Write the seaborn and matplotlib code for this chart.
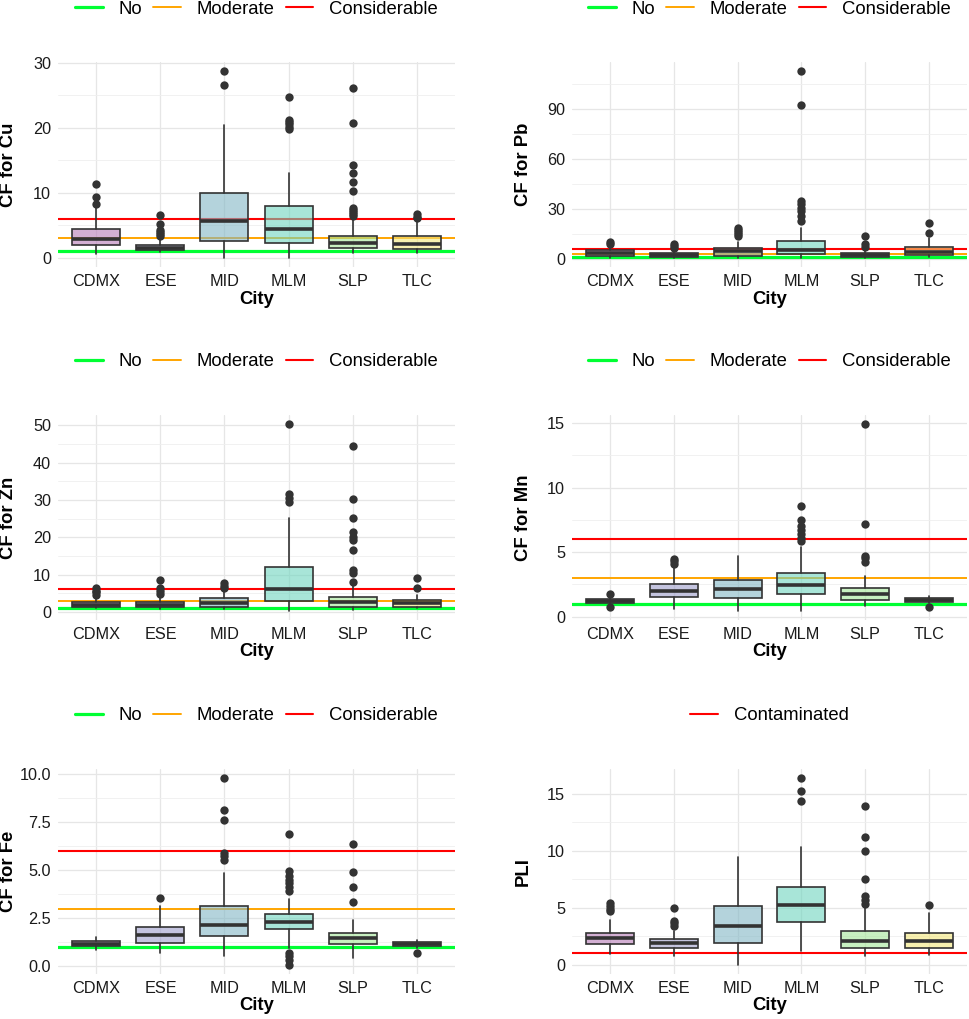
import numpy as np
import pandas as pd
import matplotlib
matplotlib.use("Agg")
import matplotlib.pyplot as plt
import seaborn as sns
from matplotlib.ticker import MultipleLocator, FormatStrFormatter
from matplotlib.colors import to_rgba
from matplotlib.lines import Line2D

# ---------------- data ----------------
cities = ["CDMX", "ESE", "MID", "MLM", "SLP", "TLC"]
fill_colors = ["#b77bb7", "#9d9dcb", "#82b7c5", "#6ed5be", "#a3e696", "#f3e67b"]

# Cu
cu_q1 = [2.0, 1.18, 2.55, 2.25, 1.5, 1.4]
cu_med = [2.8, 1.5, 5.6, 4.35, 2.3, 2.05]
cu_q3 = [4.4, 2.0, 10.0, 7.9, 3.4, 3.3]
cu_lo = [0.5, 0.9, 0.0, 0.0, 0.7, 0.7]
cu_hi = [7.6, 3.0, 20.4, 13.1, 6.2, 5.7]
cu_out = [[8.3, 9.3, 11.3], [3.4, 3.7, 3.9, 4.2, 5.2, 6.6], [26.6, 28.7],
          [19.8, 20.2, 20.6, 20.9, 21.2, 24.8],
          [6.4, 6.7, 7.0, 7.3, 7.7, 10.3, 11.7, 13.0, 14.3, 20.7, 26.2],
          [6.1, 6.3, 6.75]]

# Pb
pb_q1 = [1.6, 1.0, 1.6, 2.6, 1.0, 2.0]
pb_med = [3.2, 2.2, 4.6, 5.0, 2.2, 4.2]
pb_q3 = [5.2, 3.6, 6.2, 10.6, 3.6, 7.2]
pb_lo = [0.6, 0.6, 0.6, 0.6, 0.6, 1.0]
pb_hi = [7.2, 5.6, 10.0, 18.7, 5.0, 12.7]
pb_out = [[8.6, 9.8], [6.6, 7.6, 9.0], [13.5, 14.7, 16.0, 17.2, 18.5],
          [22.7, 25.7, 28.7, 30.7, 32.7, 34.7, 92.6, 112.9],
          [7.0, 8.6, 13.7], [15.3, 21.7]]

# Zn
zn_q1 = [1.4, 1.4, 1.4, 2.9, 1.4, 1.3]
zn_med = [1.9, 1.9, 2.3, 6.0, 2.6, 2.4]
zn_q3 = [2.6, 2.7, 3.6, 12.1, 4.0, 3.1]
zn_lo = [1.1, 0.7, 0.7, 0.3, 0.5, 0.9]
zn_hi = [4.1, 3.9, 5.5, 25.3, 7.3, 4.6]
zn_out = [[4.6, 5.2, 5.7, 6.4], [4.8, 5.5, 6.4, 8.4], [6.4, 6.8, 7.7],
          [29.5, 30.5, 31.7, 50.3],
          [8.1, 10.4, 11.3, 16.6, 19.3, 20.2, 21.4, 25.2, 30.2, 44.6],
          [6.4, 9.1]]

# Mn
mn_q1 = [1.09, 1.53, 1.45, 1.76, 1.27, 1.14]
mn_med = [1.24, 2.0, 2.12, 2.46, 1.76, 1.32]
mn_q3 = [1.4, 2.5, 2.82, 3.36, 2.2, 1.47]
mn_lo = [0.9, 0.57, 0.47, 0.47, 0.83, 1.03]
mn_hi = [1.55, 3.9, 4.73, 5.43, 3.18, 1.6]
mn_out = [[0.72, 1.8], [4.1, 4.3, 4.5], [],
          [5.87, 6.08, 6.4, 6.73, 7.04, 7.5, 8.54],
          [4.27, 4.53, 4.73, 7.22, 14.9], [0.78]]

# Fe
fe_q1 = [1.04, 1.2, 1.56, 1.94, 1.18, 1.04]
fe_med = [1.18, 1.61, 2.15, 2.31, 1.48, 1.16]
fe_q3 = [1.34, 2.05, 3.12, 2.71, 1.74, 1.27]
fe_lo = [0.87, 0.69, 0.56, 0.94, 0.43, 0.95]
fe_hi = [1.53, 3.12, 4.86, 3.52, 2.4, 1.39]
fe_out = [[], [3.56], [5.52, 5.73, 5.9, 7.6, 8.14, 9.79],
          [0.09, 0.35, 0.52, 0.69, 3.92, 4.13, 4.34, 4.51, 4.69, 4.97, 6.91],
          [3.33, 4.13, 4.93, 6.37], [0.69]]

# PLI
pli_q1 = [1.78, 1.49, 1.87, 3.74, 1.49, 1.49]
pli_med = [2.33, 1.87, 3.41, 5.22, 2.07, 2.07]
pli_q3 = [2.8, 2.22, 5.14, 6.83, 2.95, 2.8]
pli_lo = [0.9, 0.76, 0.0, 1.2, 0.76, 0.82]
pli_hi = [3.9, 2.95, 9.42, 10.33, 5.0, 4.55]
pli_out = [[4.7, 4.9, 5.13, 5.37], [3.38, 3.68, 3.82, 4.99], [],
           [14.33, 15.23, 16.34],
           [5.28, 5.7, 6.0, 7.47, 10.0, 11.18, 13.9], [5.2]]

cf_levels = [1, 3, 6]
cf_names = ["No", "Moderate", "Considerable"]
cf_colors = ["#00FF33", "#FFA500", "#FF0000"]
cf_widths = [2.3, 1.4, 1.5]
pli_levels = [1]
pli_names = ["Contaminated"]
pli_colors = ["#FF0000"]
pli_widths = [1.5]

# ---------------- style ----------------
sns.set_theme(style="whitegrid")
plt.rcParams["font.family"] = ["Liberation Sans", "DejaVu Sans"]

W, H = 969, 1019
fig = plt.figure(figsize=(W / 100, H / 100), dpi=100)
fig.patch.set_facecolor("white")

col_x = [(58, 455), (572, 967)]
row_top = [62, 415, 769]
ax_h = 205
edge = "#333333"


def panel(col, row, q1, med, q3, lo, hi, out, ylabel, levels, names, colors,
          widths, major, fmt):
    x0, x1 = col_x[col]
    top = row_top[row]
    ax = fig.add_axes([x0 / W, (H - top - ax_h) / H, (x1 - x0) / W, ax_h / H])
    ax.set_facecolor("white")

    # reference lines
    handles = []
    for v, n, c, w in zip(levels, names, colors, widths):
        ax.axhline(v, color=c, lw=w, zorder=1.5)
        handles.append(Line2D([0], [0], color=c, lw=w, label=n))

    # outliers (seaborn)
    df = pd.DataFrame([(cities[i], v) for i in range(6) for v in out[i]],
                      columns=["City", "value"])
    sns.stripplot(data=df, x="City", y="value", order=cities, jitter=False,
                  color=edge, size=6.0, linewidth=0, ax=ax, zorder=4)

    stats = [dict(q1=q1[i], med=med[i], q3=q3[i], whislo=lo[i],
                  whishi=hi[i], fliers=[]) for i in range(6)]
    res = ax.bxp(stats, positions=list(range(6)), widths=0.75,
                 patch_artist=True, showfliers=False, showcaps=False,
                 manage_ticks=False,
                 boxprops=dict(edgecolor=edge, linewidth=1.2),
                 medianprops=dict(color=edge, linewidth=2.6),
                 whiskerprops=dict(color=edge, linewidth=1.2))
    for p, c in zip(res["boxes"], fill_colors):
        p.set_facecolor(to_rgba(c, 0.6))
        p.set_zorder(2)
    for l in res["medians"] + res["whiskers"]:
        l.set_zorder(3)

    allv = list(lo) + list(hi) + [v for o in out for v in o] + list(levels)
    vmin, vmax = min(allv), max(allv)
    pad = 0.05 * (vmax - vmin)
    ax.set_ylim(vmin - pad, vmax + pad)
    ax.set_xlim(-0.6, 5.6)

    ax.set_xticks(range(6))
    ax.set_xticklabels(cities)
    ax.yaxis.set_major_locator(MultipleLocator(major))
    ax.yaxis.set_minor_locator(MultipleLocator(major / 2))
    ax.yaxis.set_major_formatter(FormatStrFormatter(fmt))
    ax.grid(True, which="major", color="#E6E6E6", lw=0.9)
    ax.grid(True, which="minor", axis="y", color="#EFEFEF", lw=0.6)
    ax.tick_params(axis="both", which="both", length=0, labelsize=11.7,
                   labelcolor="#1a1a1a", pad=5)
    for s in ax.spines.values():
        s.set_visible(False)

    ax.set_xlabel("City", fontsize=13.3, fontweight="bold", color="black")
    ax.set_ylabel(ylabel, fontsize=13.3, fontweight="bold", color="black")
    ax.xaxis.set_label_coords(0.5, -32 / ax_h)
    ax.yaxis.set_label_coords(-49 / (x1 - x0), 0.5)
    ax.xaxis.label.set_va("center")
    ax.yaxis.label.set_va("center")

    ax.legend(handles=handles, loc="center", bbox_to_anchor=(0.5, 1 + 53 / ax_h),
              ncol=len(handles), frameon=False, fontsize=13.3,
              handlelength=1.5, handletextpad=0.85, columnspacing=0.6,
              labelcolor="black")
    return ax


panel(0, 0, cu_q1, cu_med, cu_q3, cu_lo, cu_hi, cu_out, "CF for Cu",
      cf_levels, cf_names, cf_colors, cf_widths, 10, "%d")
panel(1, 0, pb_q1, pb_med, pb_q3, pb_lo, pb_hi, pb_out, "CF for Pb",
      cf_levels, cf_names, cf_colors, cf_widths, 30, "%d")
panel(0, 1, zn_q1, zn_med, zn_q3, zn_lo, zn_hi, zn_out, "CF for Zn",
      cf_levels, cf_names, cf_colors, cf_widths, 10, "%d")
panel(1, 1, mn_q1, mn_med, mn_q3, mn_lo, mn_hi, mn_out, "CF for Mn",
      cf_levels, cf_names, cf_colors, cf_widths, 5, "%d")
panel(0, 2, fe_q1, fe_med, fe_q3, fe_lo, fe_hi, fe_out, "CF for Fe",
      cf_levels, cf_names, cf_colors, cf_widths, 2.5, "%.1f")
panel(1, 2, pli_q1, pli_med, pli_q3, pli_lo, pli_hi, pli_out, "PLI",
      pli_levels, pli_names, pli_colors, pli_widths, 5, "%d")

fig.savefig("out.png", dpi=100, facecolor="white")
